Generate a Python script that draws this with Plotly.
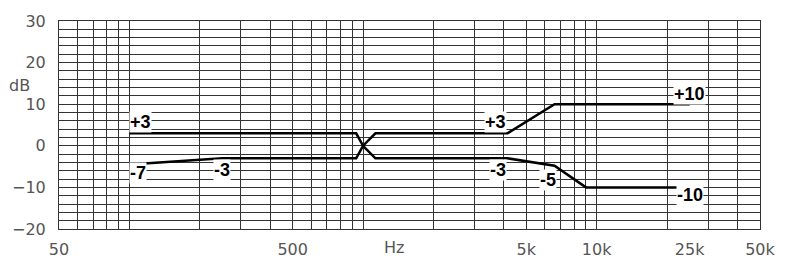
import numpy as np
import plotly.graph_objects as go

# ---- data ----
upper_f = [100, 935, 1000, 1130, 4150, 6600, 25000]
upper_db = [3, 3, 0, 3, 3, 10, 10]

lower_f = [100, 250, 935, 1000, 1130, 4150, 6600, 9000, 25000]
lower_db = [-4.5, -3, -3, 0, -3, -3, -4.8, -10, -10]

# curve labels: (text, freq, dB, xanchor)
label_text = ["+3", "-7", "-3", "+3", "-3", "-5", "+10", "-10"]
label_f = [100, 100, 250, 4150, 4150, 6200, 25000, 25000]
label_db = [5.8, -6.6, -5.9, 5.7, -5.8, -8.3, 12.4, -11.9]
label_anchor = ["left", "left", "center", "right", "right", "center", "center", "center"]

# axis ticks
x_tick_vals = [50, 500, 5000, 10000, 25000, 50000]
x_tick_text = ["50", "500", "5k", "10k", "25k", "50k"]
x_grid_vals = ([50, 60, 70, 80, 90] + [100 * k for k in range(1, 10)]
               + [1000 * k for k in range(1, 10)] + [10000 * k for k in range(1, 6)])
y_tick_vals = [-20, -10, 0, 10, 20, 30]

GRID = "#333333"
TXT = "#555555"
TICKFONT = dict(family="DejaVu Sans", size=16, color=TXT)
LABFONT = dict(family="Liberation Sans, Arial", size=18, color="black")

fig = go.Figure()
for f, d in [(upper_f, upper_db), (lower_f, lower_db)]:
    fig.add_trace(go.Scatter(x=f, y=d, mode="lines",
                             line=dict(color="black", width=2.5),
                             showlegend=False, hoverinfo="skip"))

for t, f, d, a in zip(label_text, label_f, label_db, label_anchor):
    fig.add_annotation(x=np.log10(f), y=d, xref="x", yref="y", text="<b>" + t + "</b>",
                       showarrow=False, xanchor=a, yanchor="middle",
                       font=LABFONT, bgcolor="white", borderpad=0)

fig.add_annotation(x=-0.057, y=0.69, xref="paper", yref="paper", text="dB",
                   showarrow=False, font=TICKFONT, xanchor="center", yanchor="middle")
fig.add_annotation(x=0.478, y=-0.087, xref="paper", yref="paper", text="Hz",
                   showarrow=False, font=TICKFONT, xanchor="center", yanchor="middle")

fig.update_xaxes(type="log", range=[np.log10(50), np.log10(50000)],
                 tickmode="array", tickvals=x_tick_vals, ticktext=x_tick_text,
                 showgrid=False, ticks="outside", ticklen=6, tickcolor="rgba(0,0,0,0)",
                 tickfont=TICKFONT,
                 minor=dict(tickmode="array", tickvals=x_grid_vals, showgrid=True,
                            gridcolor=GRID, gridwidth=1, ticks=""),
                 showline=True, mirror=True, linecolor=GRID, linewidth=1, zeroline=False)
fig.update_yaxes(range=[-20, 30], tickmode="array", tickvals=y_tick_vals,
                 showgrid=True, gridcolor=GRID, gridwidth=1,
                 ticks="outside", ticklen=9, tickcolor="rgba(0,0,0,0)",
                 tickfont=TICKFONT,
                 minor=dict(dtick=2, tick0=0, showgrid=True, gridcolor=GRID, gridwidth=1, ticks=""),
                 showline=True, mirror=True, linecolor=GRID, linewidth=1, zeroline=False)

fig.update_layout(width=800, height=275,
                  margin=dict(l=57, r=40, t=13, b=46),
                  paper_bgcolor="white", plot_bgcolor="white")

fig.write_html("out.html")
